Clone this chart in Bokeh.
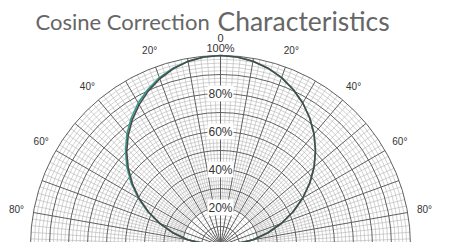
import numpy as np
from bokeh.plotting import figure
from bokeh.models import Range1d
from bokeh.core.properties import value
from bokeh.embed import file_html
from bokeh.resources import INLINE

# ---- data ----
angle_deg = [-90, -85, -80, -75, -70, -65, -60, -55, -50, -45, -40, -35, -30, -25, -20, -15, -10, -5,
             0, 5, 10, 15, 20, 25, 30, 35, 40, 45, 50, 55, 60, 65, 70, 75, 80, 85, 90]
ideal_pct = [0, 8.7, 17.4, 25.9, 34.2, 42.3, 50.0, 57.4, 64.3, 70.7, 76.6, 81.9, 86.6, 90.6, 94.0, 96.6, 98.5, 99.6,
             100, 99.6, 98.5, 96.6, 94.0, 90.6, 86.6, 81.9, 76.6, 70.7, 64.3, 57.4, 50.0, 42.3, 34.2, 25.9, 17.4, 8.7, 0]
measured_pct = [0, 8.8, 17.6, 26.0, 34.0, 41.8, 49.4, 56.6, 63.4, 69.8, 75.6, 80.9, 85.6, 89.8, 93.4, 96.3, 98.4, 99.6,
                100, 99.6, 98.5, 96.6, 94.0, 90.6, 86.6, 81.9, 76.6, 70.7, 64.3, 57.4, 50.0, 42.3, 34.2, 25.9, 17.4, 8.7, 0]
angle_ticks = [-80, -60, -40, -20, 20, 40, 60, 80]
angle_tick_labels = ["80°", "60°", "40°", "20°", "20°", "40°", "60°", "80°"]
pct_ticks = [20, 40, 60, 80]
pct_tick_labels = ["20%", "40%", "60%", "80%"]
major_angles = list(range(-90, 91, 10))
minor_angles = [a for a in range(-90, 91, 2) if a % 10 != 0]
major_radii = list(range(10, 101, 10))
minor_radii = [r for r in range(2, 100, 2) if r % 10 != 0]

R_LABEL = 109

def pol(theta_deg, r):
    t = np.radians(np.asarray(theta_deg, dtype=float))
    r = np.asarray(r, dtype=float)
    return r * np.sin(t), r * np.cos(t)

p = figure(width=443, height=242, x_range=Range1d(-115.79, 117.37), y_range=Range1d(1.58, 128.95),
           x_axis_type=None, y_axis_type=None, min_border=0, output_backend="svg", toolbar_location=None)
p.grid.visible = False
p.outline_line_color = None
p.background_fill_color = "white"

# minor circles
p.arc(x=0, y=0, radius=minor_radii, start_angle=0, end_angle=np.pi, line_color="#b4b4b4", line_width=0.6)
# minor radial lines
x0, y0 = pol(minor_angles, [20] * len(minor_angles))
x1, y1 = pol(minor_angles, [100] * len(minor_angles))
p.segment(x0=x0, y0=y0, x1=x1, y1=y1, line_color="#b4b4b4", line_width=0.6)
# major circles
p.arc(x=0, y=0, radius=major_radii, start_angle=0, end_angle=np.pi, line_color="#606060", line_width=1)
# major radial lines
x1, y1 = pol(major_angles, [100] * len(major_angles))
p.segment(x0=0, y0=0, x1=x1, y1=y1, line_color="#606060", line_width=1)

# curves
xi, yi = pol(angle_deg, ideal_pct)
p.line(xi, yi, line_color="#2f9c8c", line_width=1.6)
xm, ym = pol(angle_deg, measured_pct)
p.line(xm, ym, line_color="#4a4a4a", line_width=1.6)

# percentage labels
p.text(x=[0] * len(pct_ticks), y=pct_ticks, text=pct_tick_labels, text_align="center", text_baseline="middle",
       text_font=value("Liberation Sans"), text_font_size="12px", text_color="#333333",
       background_fill_color="white", padding=1)
# angle labels
ax, ay = pol(angle_ticks, [R_LABEL] * len(angle_ticks))
p.text(x=ax, y=ay, text=angle_tick_labels, text_align="center", text_baseline="middle",
       text_font=value("Liberation Sans"), text_font_size="10px", text_color="#333333")
p.text(x=[0, 0], y=[109, 104], text=["0", "100%"], text_align="center", text_baseline="middle",
       text_font=value("Liberation Sans"), text_font_size="11px", text_color="#333333")

# title
p.text(x=[-97.4], y=[117.9], text=["Cosine Correction"], text_align="left", text_baseline="alphabetic",
       text_font=value("Lato"), text_font_size="22px", text_color="#666666")
p.text(x=[-1.6], y=[117.9], text=["Characteristics"], text_align="left", text_baseline="alphabetic",
       text_font=value("Lato"), text_font_size="26.5px", text_color="#666666")

open("out.html", "w").write(file_html(p, INLINE))
